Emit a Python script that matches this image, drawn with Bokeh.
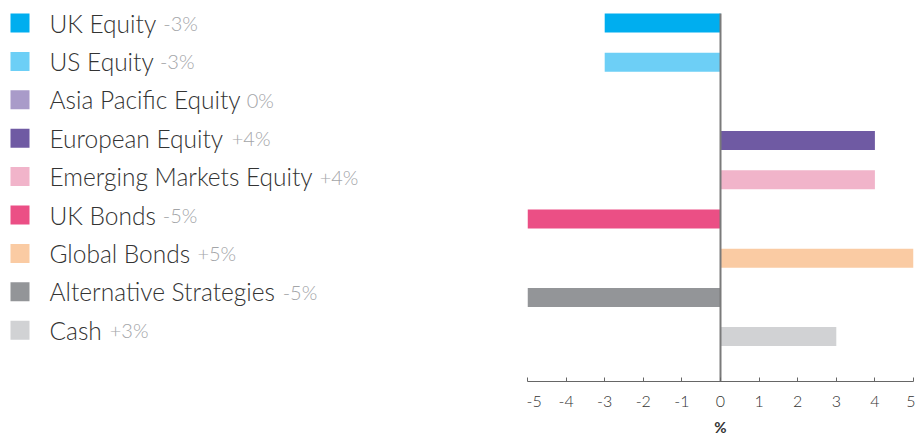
from bokeh.plotting import figure
from bokeh.models import Range1d, FixedTicker, ColumnDataSource
from bokeh.layouts import row
from bokeh.core.properties import value
from bokeh.embed import file_html
from bokeh.resources import INLINE

# ---------------- data ----------------
categories = ["UK Equity", "US Equity", "Asia Pacific Equity", "European Equity",
              "Emerging Markets Equity", "UK Bonds", "Global Bonds",
              "Alternative Strategies", "Cash"]
values = [-3, -3, 0, 4, 4, -5, 5, -5, 3]
colors = ["#00aeef", "#6dcff6", "#a99bc9", "#6f5aa3", "#f1b4ca",
          "#eb4f85", "#facba3", "#939598", "#d1d2d4"]
x_ticks = [-5, -4, -3, -2, -1, 0, 1, 2, 3, 4, 5]
x_tick_labels = ["-5", "-4", "-3", "-2", "-1", "0", "1", "2", "3", "4", "5"]
axis_title = "%"

FONT = "Lato Light"
NAME_SIZE = 24.5
VAL_SIZE = 20

# approximate advance widths (em) for width estimation of legend names
W = {'A': .67, 'B': .63, 'C': .66, 'E': .56, 'G': .72, 'K': .66, 'M': .87, 'P': .59,
     'S': .52, 'U': .72, 'a': .49, 'b': .56, 'c': .46, 'd': .56, 'e': .52, 'f': .32,
     'g': .50, 'h': .56, 'i': .23, 'k': .50, 'l': .23, 'm': .84, 'n': .56, 'o': .56,
     'p': .56, 'q': .56, 'r': .36, 's': .42, 't': .34, 'u': .56, 'v': .50, 'y': .50,
     ' ': .19}
W_SCALE = 1.0


def text_width(s, size):
    return sum(W.get(ch, .55) for ch in s) * size * W_SCALE


def fmt(v):
    return "0%" if v == 0 else f"{v:+d}%"


H = 438
FRAME_H = 381
BOTTOM = H - FRAME_H

# ---------------- legend panel ----------------
LEG_W = 526
row_top, row_step = 22.5, 38.4
n = len(categories)
leg_y = [row_top + row_step * i for i in range(n)]
text_x0 = 49
leg_src = ColumnDataSource(dict(
    y=leg_y,
    sq_x=[19.5] * n,
    tx=[text_x0] * n,
    name=categories,
    vx=[text_x0 + text_width(c, NAME_SIZE) + 8 for c in categories],
    val=[fmt(v) for v in values],
    color=colors,
))

leg = figure(width=LEG_W, height=H, x_range=Range1d(0, LEG_W),
             y_range=Range1d(FRAME_H, 0),
             toolbar_location=None, output_backend="svg", min_border=0,
             min_border_bottom=BOTTOM,
             x_axis_location=None, y_axis_location=None)
leg.outline_line_color = None
leg.grid.visible = False
leg.scatter(x="sq_x", y="y", marker="square", size=19, fill_color="color",
            line_color=None, source=leg_src)
leg.text(x="tx", y="y", text="name", source=leg_src, text_font=value(FONT),
         text_font_size=f"{NAME_SIZE}px", text_color="#333333",
         text_baseline="alphabetic", y_offset=0)
leg.text(x="vx", y="y", text="val", source=leg_src, text_font=value(FONT),
         text_font_size=f"{VAL_SIZE}px", text_color="#a3a5a8",
         text_baseline="alphabetic", y_offset=0)

# ---------------- bar panel ----------------
bar_top, bar_step = 22.5, 39.2
y_top = -bar_top / bar_step
y_bot = (FRAME_H - bar_top) / bar_step
bar_h = 0.485

src = ColumnDataSource(dict(idx=list(range(n)), val=values, color=colors))

p = figure(width=915 - LEG_W, height=H, x_range=Range1d(x_ticks[0], x_ticks[-1]),
           y_range=Range1d(y_bot, y_top), toolbar_location=None, output_backend="svg",
           y_axis_location=None, min_border_left=1, min_border_right=2,
           min_border_top=0, min_border_bottom=BOTTOM)
p.outline_line_color = None
p.grid.visible = False
p.hbar(y="idx", left=0, right="val", height=bar_h, fill_color="color",
       line_color=None, source=src)
p.segment(x0=[0], y0=[-bar_h / 2], x1=[0], y1=[y_bot], line_color="#7a7a7a",
          line_width=2)

ax = p.xaxis[0]
ax.ticker = FixedTicker(ticks=x_ticks)
ax.major_label_overrides = {t: s for t, s in zip(x_ticks, x_tick_labels)}
ax.minor_tick_line_color = None
ax.major_tick_in = 4
ax.major_tick_out = 0
ax.axis_line_color = "#666666"
ax.major_tick_line_color = "#666666"
ax.major_label_text_font = FONT
ax.major_label_text_font_size = "16px"
ax.major_label_text_color = "#333333"
ax.major_label_standoff = 14
ax.axis_label = axis_title
ax.axis_label_text_font = "Lato"
ax.axis_label_text_font_size = "15px"
ax.axis_label_text_font_style = "bold"
ax.axis_label_text_color = "#333333"
ax.axis_label_standoff = 8

layout = row(leg, p)
open("out.html", "w").write(file_html(layout, INLINE))
